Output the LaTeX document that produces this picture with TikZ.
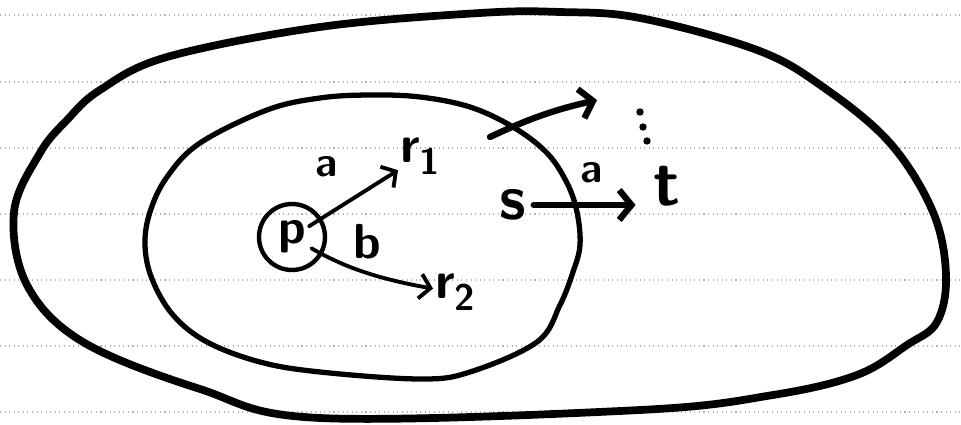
\documentclass[tikz,border=0pt]{standalone}
\usetikzlibrary{arrows.meta}

\begin{document}
\begin{tikzpicture}[
    x=0.02cm, y=-0.02cm,
    rule/.style={gray!60, dotted, line width=0.6pt},
    region/.style={draw, line cap=round, line join=round},
    letter/.style={font=\fontsize{#1}{#1}\selectfont\sffamily\bfseries, inner sep=1pt},
    letter/.default=24,
    thinarrow/.style={-{Straight Barb[length=6pt,width=14pt]}, line width=2.2pt, line cap=round},
    thickarrow/.style={-{Straight Barb[length=7pt,width=17pt]}, line width=3.6pt, line cap=round}
]
\useasboundingbox (0,0) rectangle (961,425);

% Papier ligne
\foreach \y in {15,82,148,214,280,346,412}
    \draw[rule] (0,\y) -- (961,\y);

% Region exterieure
\draw[region, line width=4.4pt] plot[smooth cycle, tension=0.6] coordinates {
    (14,212) (40,153) (67,120) (100,90) (167,57) (320,27) (480,13) (560,12)
    (640,18) (757,50) (823,87) (890,143) (933,212) (946,275) (937,322)
    (907,345) (857,375) (773,395) (640,410) (320,418) (200,389) (83,342)
    (27,285)};

% Region interieure
\draw[region, line width=3pt] plot[smooth cycle, tension=0.6] coordinates {
    (145,245) (150,212) (167,177) (200,143) (267,110) (320,98) (370,95)
    (420,97) (470,107) (513,127) (547,153) (567,183) (577,212) (580,245)
    (573,272) (560,305) (537,342) (470,372) (420,379) (320,372) (260,362)
    (207,342) (173,315) (152,279)};

% Etats
\node[circle, draw, line width=2.5pt, minimum size=1.32cm, inner sep=0pt, letter=28] (p) at (292,237) {p};
\node[letter=30, anchor=west] (r1) at (398,156) {r\textsubscript{1}};
\node[letter=30, anchor=west] (r2) at (433,292) {r\textsubscript{2}};
\node[letter=36] (s) at (513,205) {s};
\node[letter=38] (t) at (667,186) {t};

% Etiquettes
\node[letter] (la1) at (327,167) {a};
\node[letter=28] (lb) at (367,242) {b};
\node[letter] (la2) at (592,173) {a};

% Transitions
\draw[thinarrow, shorten <=0.4cm] (p.center) -- (r1);
\draw[thinarrow, shorten <=0.45cm] (p.center) to[bend right=10] (r2);
\draw[thickarrow, shorten <=3pt, shorten >=9pt] (s.east) -- (t.west |- s.east);

% Sortie vers l'exterieur
\coordinate (exitstart) at (490,137);
\coordinate (exitend) at (597,100);
\draw[thickarrow] (exitstart) to[bend left=6] (exitend);

% Points de suspension
\foreach \x/\y in {640/112, 643/127, 647/141}
    \fill (\x,\y) circle (2.1pt);

\end{tikzpicture}
\end{document}
